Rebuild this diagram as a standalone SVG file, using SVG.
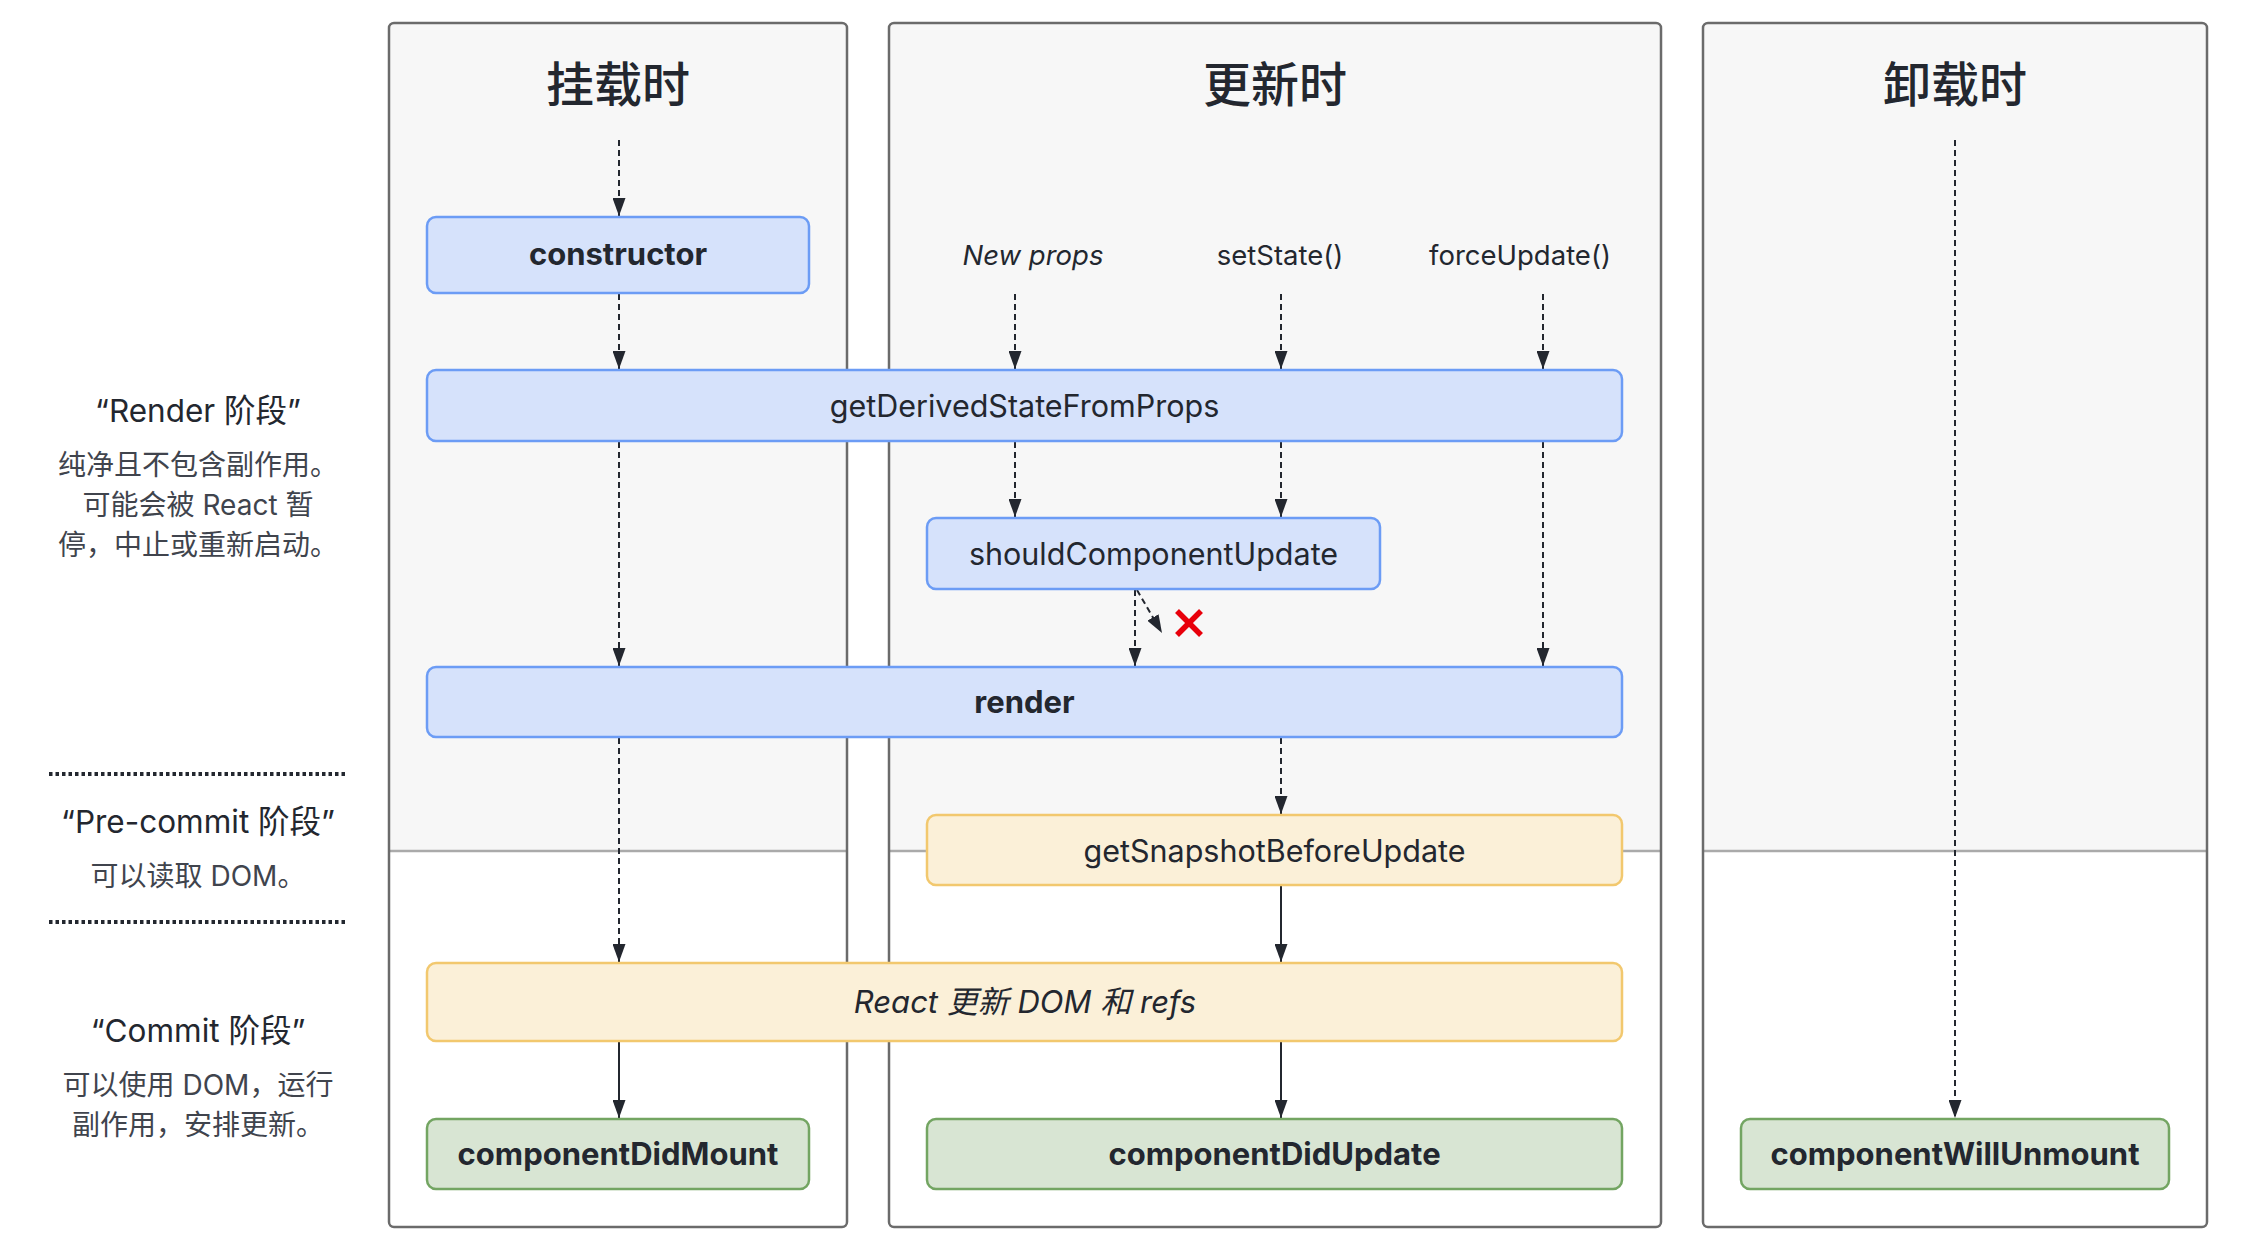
<svg xmlns="http://www.w3.org/2000/svg" width="2258" height="1246" viewBox="0 0 2258 1246">
<defs>
<marker id="ahd" viewBox="0 0 18 13" refX="18" refY="6.5" markerWidth="18" markerHeight="13" markerUnits="userSpaceOnUse" orient="auto">
<path d="M0,0 L18,6.5 L0,13 Z" fill="#23272f"/>
</marker>
</defs>
<style>
text{font-family:Inter,"Noto Sans CJK SC",sans-serif;fill:#23272f}
.title{font-size:48px;text-anchor:middle;font-family:"Noto Sans CJK SC",sans-serif;font-weight:500}
.lbl{font-size:30.5px;text-anchor:middle}
.b{font-weight:700;font-size:31px}
.it{font-style:italic}
.rx{font-size:31px}
.inp{font-size:27.5px;text-anchor:middle}
.side{font-size:28px;text-anchor:middle}
.sideh{font-size:31.5px;text-anchor:middle;font-weight:400}
.sideb{fill:#40444d}
.panel{fill:none;stroke:#6b6b6b;stroke-width:2.5}
.ptop{fill:#f7f7f7}
.pdiv{stroke:#aaaaaa;stroke-width:2.5}
.blue{fill:#d6e2fb;stroke:#6c9cf5;stroke-width:2.5}
.yel{fill:#fbf0d8;stroke:#f2c86e;stroke-width:2.5}
.grn{fill:#d8e5d3;stroke:#73a562;stroke-width:2.5}
.dash{stroke:#23272f;stroke-width:2;stroke-dasharray:6 4;fill:none}
.solid{stroke:#23272f;stroke-width:2;fill:none}
.dot{stroke:#23272f;stroke-width:4;stroke-dasharray:3.5 3}
</style>
<rect width="2258" height="1246" fill="#ffffff"/>
<g id="panel-mount">
<path class="ptop" d="M389,851 V28 Q389,23 394,23 H842 Q847,23 847,28 V851 Z"/>
<line class="pdiv" x1="389" y1="851" x2="847" y2="851"/>
<rect class="panel" x="389" y="23" width="458" height="1204" rx="5"/>
<text class="title" x="618" y="102">挂载时</text>
</g>
<g id="panel-update">
<path class="ptop" d="M889,851 V28 Q889,23 894,23 H1656 Q1661,23 1661,28 V851 Z"/>
<line class="pdiv" x1="889" y1="851" x2="1661" y2="851"/>
<rect class="panel" x="889" y="23" width="772" height="1204" rx="5"/>
<text class="title" x="1275" y="102">更新时</text>
</g>
<g id="panel-unmount">
<path class="ptop" d="M1703,851 V28 Q1703,23 1708,23 H2202 Q2207,23 2207,28 V851 Z"/>
<line class="pdiv" x1="1703" y1="851" x2="2207" y2="851"/>
<rect class="panel" x="1703" y="23" width="504" height="1204" rx="5"/>
<text class="title" x="1955" y="102">卸载时</text>
</g>
<g id="phase-labels">
<text class="sideh" x="198" y="422">“Render 阶段”</text>
<text class="side sideb" x="198" y="475">纯净且不包含副作用。</text>
<text class="side sideb" x="198" y="515">可能会被 React 暂</text>
<text class="side sideb" x="198" y="555">停，中止或重新启动。</text>
<line class="dot" x1="49" y1="774" x2="347" y2="774"/>
<text class="sideh" x="198" y="833">“Pre-commit 阶段”</text>
<text class="side sideb" x="198" y="886">可以读取 DOM。</text>
<line class="dot" x1="49" y1="922" x2="347" y2="922"/>
<text class="sideh" x="198" y="1042">“Commit 阶段”</text>
<text class="side sideb" x="198" y="1095">可以使用 DOM，运行</text>
<text class="side sideb" x="198" y="1135">副作用，安排更新。</text>
</g>
<g id="inputs">
<text class="inp it" x="1033" y="265">New props</text>
<text class="inp" x="1280" y="265">setState()</text>
<text class="inp" x="1520" y="265">forceUpdate()</text>
</g>
<g id="connectors">
<line class="dash" x1="619" y1="140" x2="619" y2="216" marker-end="url(#ahd)"/>
<line class="dash" x1="619" y1="294" x2="619" y2="369" marker-end="url(#ahd)"/>
<line class="dash" x1="619" y1="442" x2="619" y2="666" marker-end="url(#ahd)"/>
<line class="dash" x1="619" y1="738" x2="619" y2="962" marker-end="url(#ahd)"/>
<line class="solid" x1="619" y1="1042" x2="619" y2="1118" marker-end="url(#ahd)"/>
<line class="dash" x1="1015" y1="294" x2="1015" y2="369" marker-end="url(#ahd)"/>
<line class="dash" x1="1281" y1="294" x2="1281" y2="369" marker-end="url(#ahd)"/>
<line class="dash" x1="1543" y1="294" x2="1543" y2="369" marker-end="url(#ahd)"/>
<line class="dash" x1="1015" y1="442" x2="1015" y2="517" marker-end="url(#ahd)"/>
<line class="dash" x1="1281" y1="442" x2="1281" y2="517" marker-end="url(#ahd)"/>
<line class="dash" x1="1543" y1="442" x2="1543" y2="666" marker-end="url(#ahd)"/>
<line class="dash" x1="1135" y1="590" x2="1135" y2="666" marker-end="url(#ahd)"/>
<line class="dash" x1="1137" y1="590" x2="1162" y2="633" marker-end="url(#ahd)"/>
<line class="dash" x1="1281" y1="738" x2="1281" y2="814" marker-end="url(#ahd)"/>
<line class="solid" x1="1281" y1="886" x2="1281" y2="962" marker-end="url(#ahd)"/>
<line class="solid" x1="1281" y1="1042" x2="1281" y2="1118" marker-end="url(#ahd)"/>
<line class="dash" x1="1955" y1="140" x2="1955" y2="1118" marker-end="url(#ahd)"/>
<g id="no-update" stroke="#e8000b" stroke-width="5.5" stroke-linecap="butt">
<line x1="1177" y1="611" x2="1201" y2="635"/>
<line x1="1201" y1="611" x2="1177" y2="635"/>
</g>
</g>
<g id="node-constructor">
<rect class="blue" x="427" y="217" width="382" height="76" rx="9"/>
<text class="lbl b" x="618" y="265">constructor</text>
</g>
<g id="node-getDerivedStateFromProps">
<rect class="blue" x="427" y="370" width="1195" height="71" rx="9"/>
<text class="lbl" x="1024.5" y="417">getDerivedStateFromProps</text>
</g>
<g id="node-shouldComponentUpdate">
<rect class="blue" x="927" y="518" width="453" height="71" rx="9"/>
<text class="lbl" x="1153.5" y="565">shouldComponentUpdate</text>
</g>
<g id="node-render">
<rect class="blue" x="427" y="667" width="1195" height="70" rx="9"/>
<text class="lbl b" x="1024.5" y="713">render</text>
</g>
<g id="node-getSnapshotBeforeUpdate">
<rect class="yel" x="927" y="815" width="695" height="70" rx="9"/>
<text class="lbl" x="1274.5" y="862">getSnapshotBeforeUpdate</text>
</g>
<g id="node-react-updates-dom">
<rect class="yel" x="427" y="963" width="1195" height="78" rx="9"/>
<text class="lbl it rx" x="1025" y="1013">React 更新 DOM 和 refs</text>
</g>
<g id="node-componentDidMount">
<rect class="grn" x="427" y="1119" width="382" height="70" rx="9"/>
<text class="lbl b" x="618" y="1165">componentDidMount</text>
</g>
<g id="node-componentDidUpdate">
<rect class="grn" x="927" y="1119" width="695" height="70" rx="9"/>
<text class="lbl b" x="1274.5" y="1165">componentDidUpdate</text>
</g>
<g id="node-componentWillUnmount">
<rect class="grn" x="1741" y="1119" width="428" height="70" rx="9"/>
<text class="lbl b" x="1955" y="1165">componentWillUnmount</text>
</g>
</svg>
